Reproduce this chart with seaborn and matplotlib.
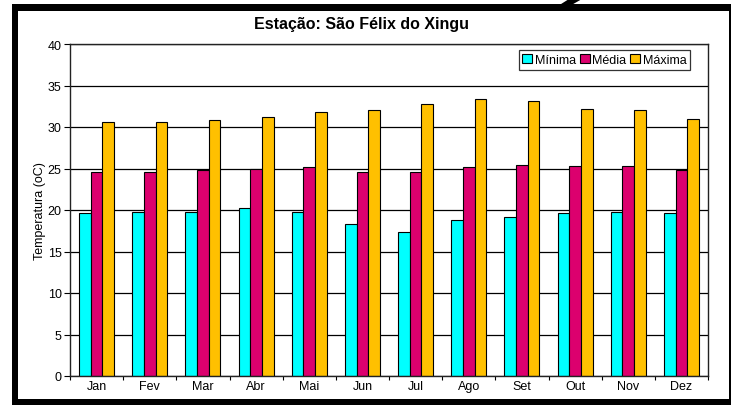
import pandas as pd
import matplotlib.pyplot as plt
import seaborn as sns
from matplotlib.patches import Rectangle, Polygon

# dados
meses = ['Jan', 'Fev', 'Mar', 'Abr', 'Mai', 'Jun', 'Jul', 'Ago', 'Set', 'Out', 'Nov', 'Dez']
minima = [19.6, 19.8, 19.8, 20.2, 19.7, 18.3, 17.4, 18.8, 19.2, 19.6, 19.8, 19.6]
media = [24.6, 24.6, 24.8, 25.0, 25.2, 24.6, 24.6, 25.2, 25.4, 25.3, 25.3, 24.8]
maxima = [30.6, 30.6, 30.8, 31.2, 31.8, 32.1, 32.8, 33.4, 33.1, 32.2, 32.0, 31.0]
series = ['Mínima', 'Média', 'Máxima']
cores = ['#00FFFF', '#DC006E', '#FFC000']

df = pd.DataFrame({'mes': meses * 3,
                   'serie': [s for s in series for _ in meses],
                   'temp': minima + media + maxima})

sns.set_style('white')
plt.rcParams['font.family'] = ['Liberation Sans', 'DejaVu Sans']
plt.rcParams.update({'text.color': 'black', 'axes.labelcolor': 'black',
                     'xtick.color': 'black', 'ytick.color': 'black'})

W, H = 731, 406
fig = plt.figure(figsize=(W / 100, H / 100), dpi=100)
ax = fig.add_axes([70 / W, 29 / H, 638 / W, 332 / H])

sns.barplot(data=df, x='mes', y='temp', hue='serie', hue_order=series,
            palette=cores, width=0.66, saturation=1, edgecolor='black',
            linewidth=0.8, ax=ax)

ax.set_ylim(0, 40)
ax.set_xlim(-0.5, 11.5)
ax.set_yticks(range(0, 41, 5))
ax.yaxis.grid(True, color='black', linewidth=0.9)
ax.set_axisbelow(True)
ax.set_xlabel('')
ax.set_ylabel('Temperatura (oC)', fontsize=9, labelpad=1)
ax.tick_params(axis='y', labelsize=9, length=4, width=0.8, pad=2, left=True)
ax.tick_params(axis='x', labelsize=9, length=0, pad=3)
ax.set_xticks([i + 0.5 for i in range(-1, 12)], minor=True)
ax.tick_params(axis='x', which='minor', length=3, width=0.8, bottom=True)
for s in ax.spines.values():
    s.set_color('#222222')
    s.set_linewidth(1.0)

leg = ax.legend(loc='upper right', bbox_to_anchor=(0.972, 0.982), ncol=3,
                fontsize=9, frameon=True, fancybox=False, edgecolor='black',
                handlelength=0.8, handleheight=0.8, handletextpad=0.2,
                columnspacing=0.3, borderpad=0.3, borderaxespad=0)
leg.get_frame().set_linewidth(0.9)

fig.text(362 / W, 1 - 25 / H, 'Estação: São Félix do Xingu', ha='center', va='center',
         fontsize=11.5, fontweight='bold')


# moldura
def caixa(x0, y0, x1, y1):
    fig.add_artist(Rectangle((x0 / W, 1 - y1 / H), (x1 - x0) / W, (y1 - y0) / H,
                             transform=fig.transFigure, color='black', lw=0))


caixa(12, 5, 731, 12)
caixa(12, 5, 18, 402)
caixa(12, 400, 731, 406)
caixa(729, 5, 731, 406)
fig.add_artist(Polygon([(550 / W, 1 - 12 / H), (561 / W, 1 - 12 / H),
                        (582 / W, 1.0), (569 / W, 1.0)],
                       transform=fig.transFigure, color='black', lw=0))

fig.savefig('out.png', dpi=100)
